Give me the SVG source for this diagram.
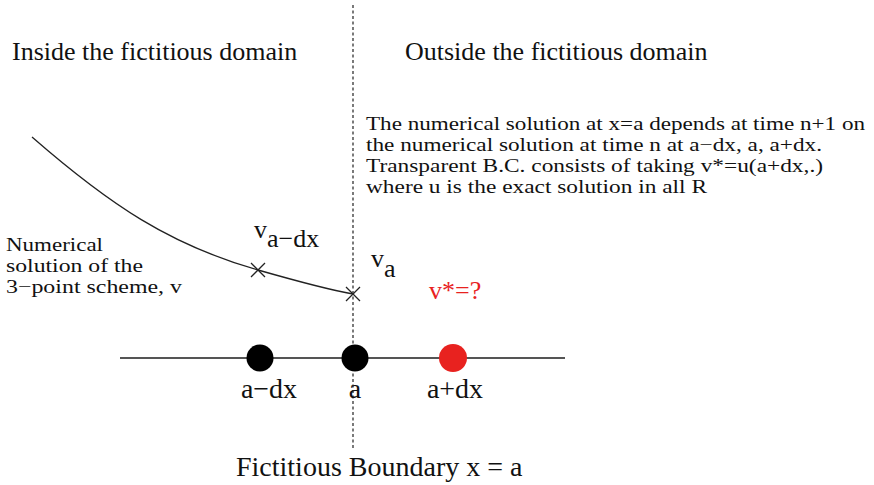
<svg xmlns="http://www.w3.org/2000/svg" width="874" height="485" viewBox="0 0 874 485">
<style>
text{font-family:"Liberation Serif","Times New Roman",serif;fill:#111}
.t{font-size:26px}
.p{font-size:18.5px}
.s{font-size:18.5px}
.v{font-size:26px}
.l{font-size:28px}
.red{fill:#e8221f}
.ln{stroke:#222;stroke-width:1.3;fill:none}
</style>
<rect width="874" height="485" fill="#fff"/>
<g id="boundary">
<line x1="353" y1="5" x2="353" y2="448" stroke="#333" stroke-width="1.3" stroke-dasharray="3,2.5"/>
</g>
<g id="texts">
<text class="t" x="12" y="60">Inside the fictitious domain</text>
<text class="t" x="405" y="60">Outside the fictitious domain</text>
<text class="p" x="366" y="130" textLength="499" lengthAdjust="spacingAndGlyphs">The numerical solution at x=a depends at time n+1 on</text>
<text class="p" x="366" y="151" textLength="456" lengthAdjust="spacingAndGlyphs">the numerical solution at time n at a−dx, a, a+dx.</text>
<text class="p" x="366" y="172" textLength="457" lengthAdjust="spacingAndGlyphs">Transparent B.C. consists of taking v*=u(a+dx,.)</text>
<text class="p" x="366" y="193" textLength="341" lengthAdjust="spacingAndGlyphs">where u is the exact solution in all R</text>
<text class="s" x="6" y="251" textLength="97" lengthAdjust="spacingAndGlyphs">Numerical</text>
<text class="s" x="6" y="272" textLength="137" lengthAdjust="spacingAndGlyphs">solution of the</text>
<text class="s" x="6" y="293" textLength="176" lengthAdjust="spacingAndGlyphs">3−point scheme, v</text>
<text class="v" x="254" y="238">v<tspan dy="9">a−dx</tspan></text>
<text class="v" x="371" y="267">v<tspan dy="10">a</tspan></text>
<text class="v red" x="429" y="299">v*=?</text>
<text class="l" x="269" y="398" text-anchor="middle">a−dx</text>
<text class="l" x="355" y="398" text-anchor="middle">a</text>
<text class="l" x="455" y="398" text-anchor="middle">a+dx</text>
<text class="l" x="236" y="476">Fictitious Boundary x = a</text>
</g>
<g id="connectors">
<path class="ln" d="M32,137 C110,205 170,245 258,270 C300,282 330,290 353,294"/>
<path class="ln" d="M251,263 L265,277 M251,277 L265,263"/>
<path class="ln" d="M346,287 L360,301 M346,301 L360,287"/>
<line x1="120" y1="358" x2="565" y2="358" stroke="#555" stroke-width="2"/>
</g>
<g id="node-a-dx"><circle cx="260" cy="358" r="13.5" fill="#000"/></g>
<g id="node-a"><circle cx="355" cy="358" r="13.5" fill="#000"/></g>
<g id="node-a-plus-dx"><circle cx="453" cy="358" r="14" fill="#e8221f"/></g>
</svg>
